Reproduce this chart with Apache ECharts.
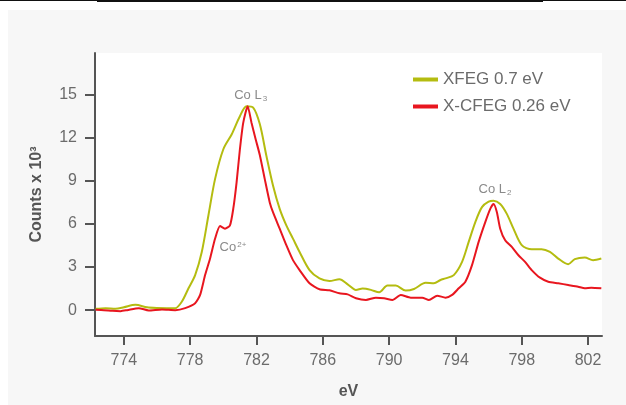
<!DOCTYPE html>
<html>
<head>
    <title>Co L-edge EELS</title>
    <script src="https://cdn.jsdelivr.net/npm/echarts@6/dist/echarts.min.js"></script>
    <style>
        html, body { margin: 0; padding: 0; background: #fff; }
        #chart { width: 626px; height: 405px; }
    </style>
</head>
<body>
    <div id="chart"></div>
    <script>
        // energy loss (eV) and counts (x 10^3)
        const xfegEnergy = [772.3, 772.9, 773.5, 774.0, 774.7, 775.4, 776.0, 776.6, 777.1, 777.5, 777.9, 778.3, 778.7, 779.1, 779.5, 780.0, 780.5, 781.0, 781.4, 781.8, 782.2, 782.6, 783.0, 783.4, 783.8, 784.2, 784.6, 785.2, 785.8, 786.4, 787.0, 787.5, 788.0, 788.4, 788.9, 789.4, 789.9, 790.4, 791.0, 791.5, 792.2, 792.7, 793.1, 793.4, 793.9, 794.4, 794.8, 795.2, 795.6, 796.0, 796.3, 796.7, 797.1, 797.5, 798.0, 798.6, 799.2, 799.7, 800.2, 800.8, 801.2, 801.8, 802.3, 802.8];
        const xfegCounts = [0.09, 0.14, 0.1, 0.2, 0.37, 0.2, 0.15, 0.14, 0.14, 0.6, 1.52, 2.44, 4.05, 6.59, 9.12, 11.2, 12.23, 13.5, 14.19, 14.1, 12.95, 10.73, 8.66, 7.05, 5.9, 4.98, 4.05, 2.79, 2.21, 2.03, 2.15, 1.8, 1.41, 1.5, 1.41, 1.24, 1.71, 1.71, 1.36, 1.47, 1.9, 1.87, 2.1, 2.21, 2.44, 3.36, 4.75, 6.13, 7.17, 7.55, 7.62, 7.39, 6.7, 5.67, 4.52, 4.24, 4.24, 4.05, 3.59, 3.2, 3.55, 3.66, 3.48, 3.59];

        const cfegEnergy = [772.3, 772.8, 773.3, 773.8, 774.2, 774.9, 775.5, 776.3, 777.1, 777.7, 778.3, 778.6, 778.9, 779.2, 779.5, 779.8, 780.1, 780.4, 780.6, 780.8, 781.0, 781.2, 781.47, 781.7, 781.95, 782.2, 782.5, 782.8, 783.0, 783.4, 783.8, 784.2, 784.6, 785.2, 785.8, 786.4, 787.0, 787.5, 788.0, 788.6, 789.2, 789.7, 790.2, 790.7, 791.3, 792.0, 792.4, 792.9, 793.4, 793.8, 794.2, 794.6, 795.0, 795.4, 795.8, 796.1, 796.3, 796.5, 796.7, 797.0, 797.4, 797.8, 798.2, 798.6, 799.1, 799.6, 800.2, 800.8, 801.4, 801.8, 802.2, 802.8];
        const cfegCounts = [0.02, 0.0, -0.05, -0.07, 0.0, 0.14, -0.02, 0.05, 0.0, 0.14, 0.48, 1.06, 2.44, 3.6, 4.97, 5.85, 5.67, 5.9, 7.06, 8.9, 11.2, 13.04, 14.19, 13.04, 11.9, 10.8, 9.12, 7.5, 6.8, 5.67, 4.52, 3.48, 2.79, 1.87, 1.45, 1.38, 1.17, 1.1, 0.83, 0.71, 0.87, 0.83, 0.71, 1.06, 0.87, 0.87, 0.71, 1.01, 0.87, 1.06, 1.52, 1.98, 3.13, 4.75, 6.13, 7.05, 7.39, 6.82, 5.67, 4.86, 4.4, 3.82, 3.36, 2.79, 2.26, 1.98, 1.87, 1.75, 1.63, 1.52, 1.56, 1.52];

        const xTicks = [774, 778, 782, 786, 790, 794, 798, 802];
        const yTicks = [0, 3, 6, 9, 12, 15];
        const seriesNames = ['XFEG 0.7 eV', 'X-CFEG 0.26 eV'];

        // peak labels: [energy, counts, text]
        const peakLabels = [
            [781.65, 14.96, '{t|Co L}{sub|3}'],
            [796.39, 8.38, '{t|Co L}{sub|2}']
        ];
        const shoulderLabels = [
            [780.58, 4.35, '{t|Co}{sup|2+}']
        ];

        const axisGray = '#555';
        const labelGray = '#6b6b6b';
        const noteGray = '#8a8a8a';

        const richText = {
            t: { fontSize: 13, color: noteGray },
            sub: { fontSize: 8, color: noteGray, padding: [7, 0, 0, 1] },
            sup: { fontSize: 8, color: noteGray, padding: [0, 0, 6, 1] }
        };

        function toMarks(list) {
            return list.map(p => ({
                coord: [p[0], p[1]],
                symbolSize: 0,
                label: { show: true, position: 'inside', formatter: p[2], rich: richText }
            }));
        }

        const chart = echarts.init(document.getElementById('chart'));

        chart.setOption({
            backgroundColor: '#fff',
            animation: false,
            textStyle: { fontFamily: 'Liberation Sans, Arial, sans-serif' },
            graphic: [
                { type: 'rect', shape: { x: 8, y: 10, width: 618, height: 395 }, style: { fill: '#f7f7f7' }, z: -10 },
                { type: 'line', shape: { x1: 0, y1: 0.5, x2: 626, y2: 0.5 }, style: { stroke: '#111', lineWidth: 1 } },
                { type: 'line', shape: { x1: 97, y1: 1, x2: 543, y2: 1 }, style: { stroke: '#111', lineWidth: 2 } }
            ],
            grid: {
                left: 95,
                right: 24,
                top: 53,
                bottom: 67,
                show: true,
                backgroundColor: '#fff',
                borderWidth: 0
            },
            legend: {
                data: seriesNames,
                orient: 'vertical',
                left: 413,
                top: 71,
                padding: 0,
                icon: 'rect',
                itemWidth: 25,
                itemHeight: 4,
                itemGap: 10,
                textStyle: { fontSize: 17, color: labelGray, lineHeight: 17 }
            },
            xAxis: {
                type: 'value',
                min: 772.26,
                max: 802.84,
                name: 'eV',
                nameLocation: 'middle',
                nameGap: 48,
                nameTextStyle: { fontSize: 16, fontWeight: 'bold', color: axisGray },
                axisLine: { show: true, onZero: false, lineStyle: { color: axisGray, width: 2 } },
                axisTick: { show: true, length: 9, customValues: xTicks, lineStyle: { color: axisGray, width: 2 } },
                axisLabel: { customValues: xTicks, fontSize: 16, color: labelGray, margin: 17 },
                splitLine: { show: false }
            },
            yAxis: {
                type: 'value',
                min: -1.8,
                max: 17.9,
                name: 'Counts x 10³',
                nameLocation: 'middle',
                nameGap: 50,
                nameRotate: 90,
                nameTextStyle: { fontSize: 16, fontWeight: 'bold', color: axisGray },
                axisLine: { show: true, onZero: false, lineStyle: { color: axisGray, width: 2 } },
                axisTick: { show: true, length: 10, customValues: yTicks, lineStyle: { color: axisGray, width: 2 } },
                axisLabel: { customValues: yTicks, fontSize: 16, color: labelGray, margin: 18 },
                splitLine: { show: false }
            },
            series: [
                {
                    name: seriesNames[0],
                    type: 'line',
                    data: xfegEnergy.map((e, i) => [e, xfegCounts[i]]),
                    showSymbol: false,
                    smooth: 0.3,
                    color: '#b4bc10',
                    lineStyle: { width: 2 },
                    markPoint: { data: toMarks(peakLabels) },
                    z: 2
                },
                {
                    name: seriesNames[1],
                    type: 'line',
                    data: cfegEnergy.map((e, i) => [e, cfegCounts[i]]),
                    showSymbol: false,
                    smooth: 0.2,
                    color: '#e8161f',
                    lineStyle: { width: 2 },
                    markPoint: { data: toMarks(shoulderLabels) },
                    z: 3
                }
            ]
        });
    </script>
</body>
</html>
